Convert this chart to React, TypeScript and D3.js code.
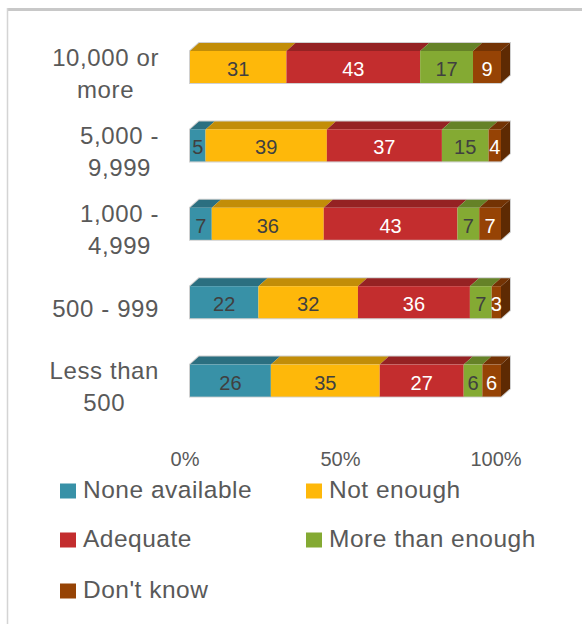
import React, { useEffect, useRef } from "react";
import * as d3 from "d3";

const categories: string[][] = [
  ["10,000 or", "more"],
  ["5,000 -", "9,999"],
  ["1,000 -", "4,999"],
  ["500 - 999"],
  ["Less than", "500"],
];
const seriesNames = ["None available", "Not enough", "Adequate", "More than enough", "Don't know"];
const noneAvailable = [0, 5, 7, 22, 26];
const notEnough = [31, 39, 36, 32, 35];
const adequate = [43, 37, 43, 36, 27];
const moreThanEnough = [17, 15, 7, 7, 6];
const dontKnow = [9, 4, 7, 3, 6];
const xTicks = [0, 50, 100];

const colors = ["#3891A7", "#FEB80A", "#C32D2E", "#84AA33", "#964305"];
const labelColors = ["#404040", "#404040", "#ffffff", "#404040", "#ffffff"];

export default function App() {
  const ref = useRef<SVGSVGElement>(null);

  useEffect(() => {
    const svg = d3.select(ref.current);
    svg.selectAll("*").remove();
    const font = "'Liberation Sans', Arial, sans-serif";
    const textColor = "#595959";

    // frame
    svg.append("line").attr("x1", 7.5).attr("x2", 600).attr("y1", 9.5).attr("y2", 9.5)
      .attr("stroke", "#c8c8c8").attr("stroke-width", 3);
    svg.append("line").attr("x1", 7.5).attr("x2", 7.5).attr("y1", 8).attr("y2", 630)
      .attr("stroke", "#d4d4d4").attr("stroke-width", 1.5);

    const series = [noneAvailable, notEnough, adequate, moreThanEnough, dontKnow];
    const x = d3.scaleLinear().domain([0, 100]).range([190, 501]);
    const y = d3.scaleLinear().domain([0, 4]).range([67, 380.6]);
    const h = 32;
    const dx = 9;
    const dy = 8;

    categories.forEach((_, i) => {
      const cy = y(i);
      const top = cy - h / 2;
      const g = svg.append("g");
      let acc = 0;
      const segs: { x0: number; x1: number; s: number; v: number }[] = [];
      series.forEach((arr, s) => {
        const v = arr[i];
        const x0 = x(acc);
        acc += v;
        const x1 = x(acc);
        if (v > 0) segs.push({ x0, x1, s, v });
      });
      // shadow/outline
      const xs = segs[0].x0;
      const xe = segs[segs.length - 1].x1;
      g.append("path")
        .attr("d", `M${xs},${top} L${xs + dx},${top - dy} L${xe + dx},${top - dy} L${xe + dx},${top + h - dy} L${xe},${top + h} L${xs},${top + h} Z`)
        .attr("fill", "none").attr("stroke", "#d0d0d0").attr("stroke-width", 2);
      segs.forEach(({ x0, x1, s }) => {
        const c = d3.color(colors[s])!;
        // top face
        g.append("path")
          .attr("d", `M${x0},${top} L${x0 + dx},${top - dy} L${x1 + dx},${top - dy} L${x1},${top} Z`)
          .attr("fill", c.darker(0.75).toString());
        // front face
        g.append("rect").attr("x", x0).attr("y", top).attr("width", x1 - x0).attr("height", h)
          .attr("fill", colors[s]);
      });
      const last = segs[segs.length - 1];
      g.append("path")
        .attr("d", `M${last.x1},${top} L${last.x1 + dx},${top - dy} L${last.x1 + dx},${top + h - dy} L${last.x1},${top + h} Z`)
        .attr("fill", d3.color(colors[last.s])!.darker(1.3).toString());
      // labels
      segs.forEach(({ x0, x1, s, v }) => {
        g.append("text").attr("x", (x0 + x1) / 2).attr("y", cy + 2)
          .attr("text-anchor", "middle").attr("dominant-baseline", "central")
          .attr("font-family", font).attr("font-size", 20)
          .attr("fill", labelColors[s]).text(v);
      });
    });

    // category labels
    const right = 159;
    const lh = 32;
    categories.forEach((lines, i) => {
      const cc = y(i) + 6;
      const g = svg.append("g");
      const texts = lines.map((ln, k) =>
        g.append("text").attr("y", cc + (k - (lines.length - 1) / 2) * lh)
          .attr("dominant-baseline", "central").attr("text-anchor", "middle")
          .attr("font-family", font).attr("font-size", 24).attr("letter-spacing", 0.6)
          .attr("fill", textColor).text(ln)
      );
      const widths = texts.map((t) => (t.node() as SVGTextElement).getComputedTextLength());
      const maxW = Math.max(...widths);
      texts.forEach((t) => t.attr("x", right - maxW / 2));
    });

    // x axis labels
    xTicks.forEach((t) => {
      svg.append("text").attr("x", x(t) - 5).attr("y", 466)
        .attr("text-anchor", "middle").attr("font-family", font).attr("font-size", 20)
        .attr("fill", textColor).text(`${t}%`);
    });

    // legend
    const legendPos = [
      [60, 491], [306, 491],
      [60, 540], [306, 540],
      [60, 591],
    ];
    seriesNames.forEach((name, s) => {
      const [lx, ly] = legendPos[s];
      svg.append("rect").attr("x", lx).attr("y", ly - 7.5).attr("width", 16).attr("height", 15)
        .attr("fill", colors[s]);
      svg.append("text").attr("x", lx + 23).attr("y", ly + 7)
        .attr("font-family", font).attr("font-size", 24.5).attr("letter-spacing", 0.5)
        .attr("fill", textColor).text(name);
    });
  }, []);

  return (
    <svg ref={ref} width={582} height={624}
      style={{ position: "absolute", left: 0, top: 0, background: "#fff" }} />
  );
}
